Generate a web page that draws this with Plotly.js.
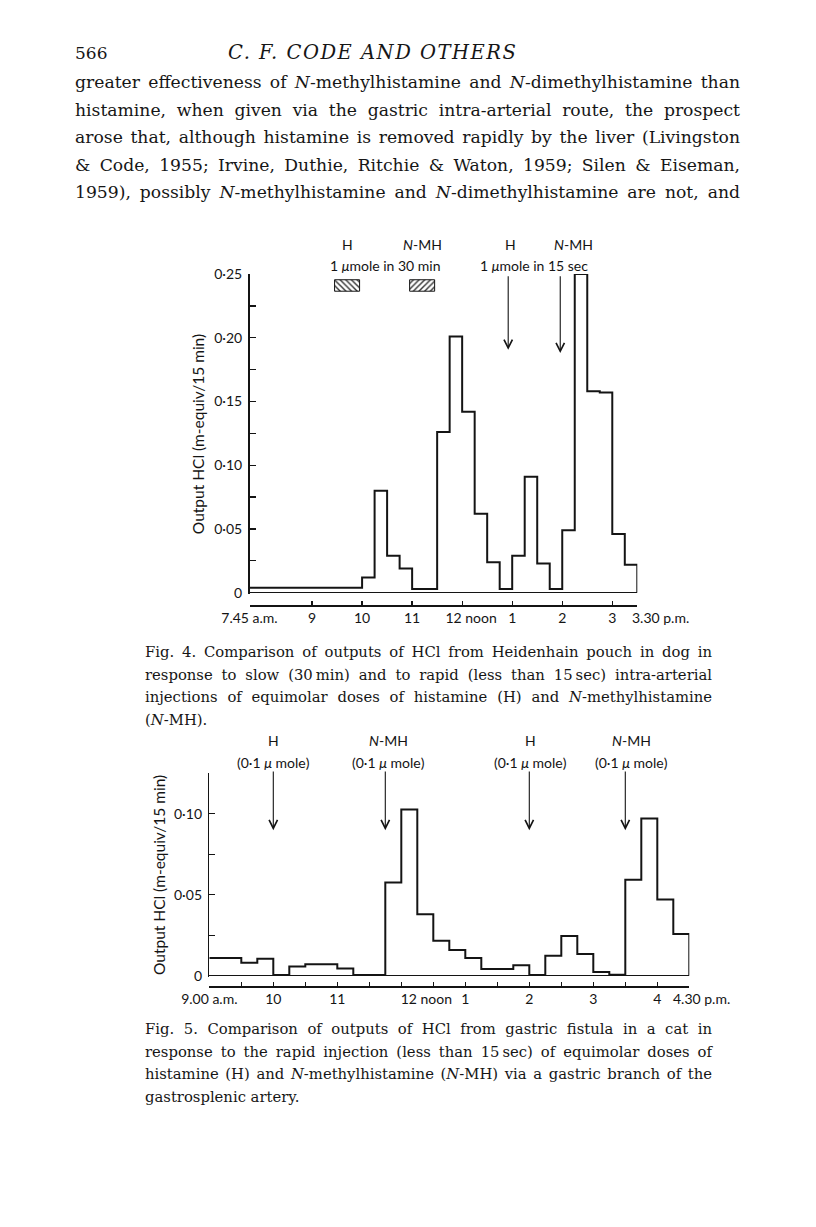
<!DOCTYPE html>
<html>
<head>
<meta charset="utf-8">
<script src="https://cdn.plot.ly/plotly-3.0.1.min.js"></script>
<style>
  html, body { margin: 0; padding: 0; background: #fff; }
  #page { position: relative; width: 816px; height: 1227px; overflow: hidden; }
  #chart { position: absolute; left: 0; top: 0; width: 816px; height: 1227px; }
  .txt { position: absolute; font-family: 'DejaVu Serif', serif; color: #161616; }
  .just { text-align: justify; text-align-last: justify; }
</style>
</head>
<body>
<div id="page">
  <div id="chart"></div>
</div>
<script>
'use strict';

/* global Plotly */

// Fig. 4 -- dog, Heidenhain pouch. 15 min collections from 7.45 a.m.
const fig4Start = 7.75;
const fig4Output = [
  0.004, 0.004, 0.004, 0.004, 0.004, 0.004, 0.004, 0.004, 0.004,
  0.012, 0.080, 0.029, 0.019, 0.003, 0.003, 0.126, 0.201, 0.142,
  0.062, 0.024, 0.003, 0.029, 0.091, 0.023, 0.003, 0.049, 0.250,
  0.158, 0.157, 0.046, 0.022
];
const fig4TickVals = [7.75, 9, 10, 11, 12, 13, 14, 15, 15.5];
const fig4TickText = ['7.45 a.m.', '9', '10', '11',
  '\u00a0\u00a0\u00a0\u00a0\u00a012 noon', '1', '2', '3', ''];
const fig4EndLabel = '3.30 p.m.';
const fig4YVals = [0, 0.025, 0.05, 0.075, 0.1, 0.125, 0.15, 0.175, 0.2, 0.225, 0.25];
const fig4YText = ['0', '', '0·05', '', '0·10', '', '0·15', '', '0·20', '', '0·25'];
// slow (30 min) infusions, drawn as hatched blocks
const fig4SlowDrug = ['H', '<i>N</i>-MH'];
const fig4SlowMid = [9.7, 11.2];
const fig4SlowPattern = ['\\', '/'];
// rapid injections (arrows)
const fig4RapidDrug = ['H', '<i>N</i>-MH'];
const fig4RapidTime = [12.92, 13.96];
const fig4RapidLabelX = [12.96, 14.22];

// Fig. 5 -- cat, gastric fistula. 15 min collections from 9.00 a.m.
const fig5Start = 9;
const fig5Output = [
  0.011, 0.011, 0.008, 0.0105, 0.0005, 0.0056, 0.007, 0.007, 0.0045, 0.0005,
  0.0005, 0.0576, 0.1027, 0.038, 0.0216, 0.0158, 0.011, 0.0041, 0.0041, 0.0064,
  0.0004, 0.0123, 0.0245, 0.0134, 0.0023, 0.0006, 0.0593, 0.0971, 0.0471, 0.0257
];
const fig5TickVals = [9, 9.5, 10, 10.5, 11, 11.5, 12, 12.5, 13, 13.5, 14, 14.5, 15, 15.5, 16, 16.5];
const fig5TickText = ['9.00 a.m.', '', '10', '', '11', '',
  '\u00a0\u00a0\u00a0\u00a0\u00a0\u00a0\u00a0\u00a0\u00a0\u00a0\u00a0\u00a0\u00a0\u00a012 noon', '', '1', '', '2', '', '3', '', '4', ''];
const fig5EndLabel = '4.30 p.m.';
const fig5YVals = [0, 0.025, 0.05, 0.075, 0.1, 0.125];
const fig5YText = ['0', '', '0·05', '', '0·10', ''];
const fig5Drug = ['H', '<i>N</i>-MH', 'H', '<i>N</i>-MH'];
const fig5InjTime = [10.0, 11.75, 14.0, 15.5];
const fig5LabelX = [10.0, 11.8, 14.02, 15.59];

const yTitle = 'Output HCl (m-equiv/15 min)';

const bodyLines = [
  'greater effectiveness of <i>N</i>-methylhistamine and <i>N</i>-dimethylhistamine than',
  'histamine, when given via the gastric intra-arterial route, the prospect',
  'arose that, although histamine is removed rapidly by the liver (Livingston',
  '&amp; Code, 1955; Irvine, Duthie, Ritchie &amp; Waton, 1959; Silen &amp; Eiseman,',
  '1959), possibly <i>N</i>-methylhistamine and <i>N</i>-dimethylhistamine are not, and'
];
const fig4Caption = [
  'Fig. 4. Comparison of outputs of HCl from Heidenhain pouch in dog in',
  'response to slow (30\u2009min) and to rapid (less than 15\u2009sec) intra-arterial',
  'injections of equimolar doses of histamine (H) and <i>N</i>-methylhistamine',
  '(<i>N</i>-MH).'
];
const fig5Caption = [
  'Fig. 5. Comparison of outputs of HCl from gastric fistula in a cat in',
  'response to the rapid injection (less than 15\u2009sec) of equimolar doses of',
  'histamine (H) and <i>N</i>-methylhistamine (<i>N</i>-MH) via a gastric branch of the',
  'gastrosplenic artery.'
];

const ink = '#141414';

// pixel row on the page -> paper fraction
function py(p) {
  return 1 - p / 1227;
}

function stepTrace(start, values, xa, ya) {
  const x = values.map((v, i) => start + i * 0.25);
  const y = values.slice();
  x.push(start + values.length * 0.25);
  y.push(0);
  return {
    x, y, xaxis: xa, yaxis: ya,
    type: 'scatter', mode: 'lines',
    line: {shape: 'hv', color: ink, width: 2},
    hoverinfo: 'skip'
  };
}

function label(text, xref, x, row, size) {
  return {
    text, xref, x, yref: 'paper', y: py(row),
    showarrow: false, xanchor: 'center', yanchor: 'middle',
    font: {size: size || 14, color: ink}
  };
}

// last tick label of each time axis sits to the right of its tick
function endLabel(text, xref, x, row, shift) {
  return {
    text, xref, x, yref: 'paper', y: py(row), xshift: shift,
    showarrow: false, xanchor: 'left', yanchor: 'middle',
    font: {size: 14, color: ink}
  };
}

function arrow(xref, yref, x, head, tail) {
  return {
    text: '', xref, yref, x, y: head,
    axref: xref, ayref: yref, ax: x, ay: tail,
    showarrow: true, arrowhead: 5, arrowsize: 1.5, arrowwidth: 1.1,
    arrowcolor: ink
  };
}

const slowBlocks = {
  type: 'bar', xaxis: 'x', yaxis: 'y',
  x: fig4SlowMid, y: [0.009, 0.009], base: [0.2365, 0.2365], width: [0.5, 0.5],
  marker: {
    color: 'white',
    line: {color: ink, width: 1},
    pattern: {shape: fig4SlowPattern, fgcolor: '#333', bgcolor: 'white', size: 4, solidity: 0.35}
  },
  hoverinfo: 'skip'
};

const axisCommon = {
  showline: true, linecolor: ink, linewidth: 1.5,
  showgrid: false, ticks: 'inside', tickcolor: ink, tickwidth: 1.3,
  tickangle: 0,
  tickfont: {size: 14, color: ink}, fixedrange: true
};

const annotations = [];
fig4SlowDrug.forEach((d, i) => annotations.push(label(d, 'x', fig4SlowMid[i], 245)));
annotations.push(label('1 <i>\u03bc</i>mole in 30 min', 'x', 10.45, 265));
fig4RapidDrug.forEach((d, i) => {
  annotations.push(label(d, 'x', fig4RapidLabelX[i], 245));
  annotations.push(arrow('x', 'y', fig4RapidTime[i], i === 0 ? 0.1905 : 0.188, 0.2494));
});
annotations.push(label('1 <i>\u03bc</i>mole in 15 sec', 'x', 13.44, 265));
annotations.push(endLabel(fig4EndLabel, 'x', fig4TickVals[fig4TickVals.length - 1], 617, -7));
fig5Drug.forEach((d, i) => {
  annotations.push(label(d, 'x2', fig5LabelX[i], 741));
  annotations.push(label('(0\u00b71 <i>\u03bc</i> mole)', 'x2', fig5LabelX[i], 762));
  annotations.push(arrow('x2', 'y2', fig5InjTime[i], 0.0899, 0.1271));
});
annotations.push(endLabel(fig5EndLabel, 'x2', fig5TickVals[fig5TickVals.length - 1], 998, -18));

const layout = {
  width: 816,
  height: 1227,
  margin: {l: 0, r: 0, t: 0, b: 0},
  paper_bgcolor: 'rgba(0,0,0,0)',
  plot_bgcolor: 'rgba(0,0,0,0)',
  showlegend: false,
  font: {family: 'Lato, "Open Sans", sans-serif', size: 14, color: ink},
  xaxis: Object.assign({}, axisCommon, {
    domain: [249.5 / 816, 637.3 / 816], range: [7.75, 15.5],
    anchor: 'free', position: py(605), ticklen: 4, zeroline: false,
    tickmode: 'array', tickvals: fig4TickVals, ticktext: fig4TickText
  }),
  yaxis: Object.assign({}, axisCommon, {
    domain: [py(594), py(274)], range: [-0.001, 0.25], anchor: 'x',
    ticklen: 6, ticklabelstandoff: 3,
    zeroline: true, zerolinecolor: ink, zerolinewidth: 1.5,
    tickmode: 'array', tickvals: fig4YVals, ticktext: fig4YText,
    title: {text: yTitle, font: {size: 15.5, color: ink}, standoff: 6}
  }),
  xaxis2: Object.assign({}, axisCommon, {
    domain: [209.3 / 816, 689.3 / 816], range: [9, 16.5],
    anchor: 'free', position: py(986), ticklen: 4, zeroline: false,
    tickmode: 'array', tickvals: fig5TickVals, ticktext: fig5TickText
  }),
  yaxis2: Object.assign({}, axisCommon, {
    domain: [py(976.5), py(773.3)], range: [-0.0005, 0.125], anchor: 'x2',
    ticklen: 6, ticklabelstandoff: 3,
    zeroline: true, zerolinecolor: ink, zerolinewidth: 1.5,
    tickmode: 'array', tickvals: fig5YVals, ticktext: fig5YText,
    title: {text: yTitle, font: {size: 15.5, color: ink}, standoff: 4}
  }),
  annotations
};

Plotly.newPlot('chart', [
  stepTrace(fig4Start, fig4Output, 'x', 'y'),
  slowBlocks,
  stepTrace(fig5Start, fig5Output, 'x2', 'y2')
], layout, {staticPlot: true});

// page text
const page = document.getElementById('page');

function addText(html, left, top, width, size, cls, extra) {
  const div = document.createElement('div');
  div.className = 'txt ' + (cls || '');
  div.innerHTML = html;
  div.style.left = left + 'px';
  div.style.top = top + 'px';
  if (width) {
    div.style.width = width + 'px';
  }
  div.style.fontSize = size + 'px';
  div.style.lineHeight = '24px';
  Object.assign(div.style, extra || {});
  page.appendChild(div);
}

function addBlock(lines, left, firstRow, spacing, width, size, lastIsFull) {
  lines.forEach((line, i) => {
    const full = i < lines.length - 1 || lastIsFull;
    addText(line, left, firstRow + i * spacing - 12, width, size, full ? 'just' : '');
  });
}

addText('566', 75, 53 - 12, 0, 17);
addText('<i>C. F. CODE AND OTHERS</i>', 228, 53 - 12, 0, 19.5, '', {letterSpacing: '1.5px', whiteSpace: 'nowrap'});
addBlock(bodyLines, 75, 82, 27.5, 665, 17.2, true);
addBlock(fig4Caption, 145, 652, 22.7, 567, 14.8, false);
addBlock(fig5Caption, 145, 1029, 22.7, 567, 14.8, false);
</script>
</body>
</html>
